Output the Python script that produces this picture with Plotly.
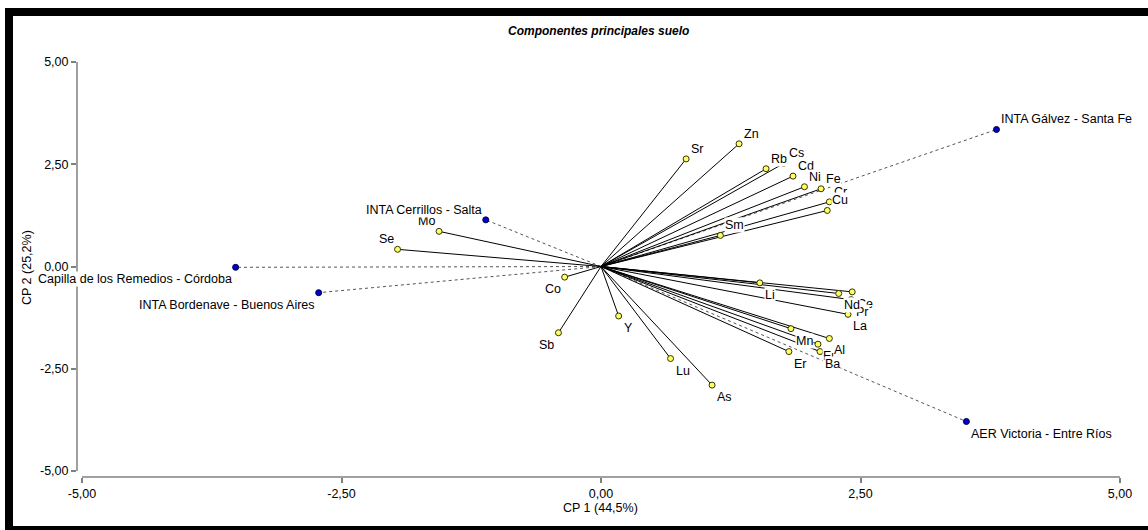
import plotly.graph_objects as go

# ---------------- data ----------------
var_names = ["Sr", "Zn", "Cs", "Rb", "Cd", "Ni", "Fe", "Cr", "Cu", "Sm",
             "Ce", "Pr", "Nd", "La", "Li", "Mn", "Eu", "Ba", "Al", "Er",
             "Y", "Lu", "As", "Sb", "Co", "Mo", "Se"]
var_x = [0.82, 1.33, 1.76, 1.59, 1.85, 1.96, 2.12, 2.20, 2.18, 1.15,
         2.42, 2.41, 2.29, 2.38, 1.53, 1.83, 2.09, 2.11, 2.20, 1.81,
         0.17, 0.67, 1.07, -0.41, -0.35, -1.56, -1.96]
var_y = [2.63, 3.00, 2.52, 2.39, 2.21, 1.95, 1.90, 1.58, 1.37, 0.76,
         -0.62, -0.81, -0.66, -1.17, -0.40, -1.52, -1.90, -2.08, -1.76, -2.08,
         -1.21, -2.25, -2.90, -1.62, -0.26, 0.86, 0.42]

site_names = ["INTA Gálvez - Santa Fe", "AER Victoria - Entre Ríos",
              "INTA Cerrillos - Salta", "Capilla de los Remedios - Córdoba",
              "INTA Bordenave - Buenos Aires"]
site_x = [3.81, 3.52, -1.11, -3.52, -2.72]
site_y = [3.35, -3.79, 1.14, -0.02, -0.64]

tick_vals = [-5, -2.5, 0, 2.5, 5]
tick_text = ["-5,00", "-2,50", "0,00", "2,50", "5,00"]

title_text = "Componentes principales suelo"
x_title = "CP 1 (44,5%)"
y_title = "CP 2 (25,2%)"

# ---------------- layout geometry ----------------
W, H = 1148, 530
ML, MR, MT, MB = 77, 26, 60, 53
PW, PH = W - ML - MR, H - MT - MB
FONT = "Liberation Sans, Arial, sans-serif"


def px(xp):
    return (xp - ML) / PW


def py(yp):
    return (H - MB - yp) / PH


def segs(xs, ys):
    ox, oy = [], []
    for a, b in zip(xs, ys):
        ox += [0, a, None]
        oy += [0, b, None]
    return ox, oy


fig = go.Figure()

sx, sy = segs(site_x, site_y)
fig.add_trace(go.Scatter(x=sx, y=sy, mode="lines",
                         line=dict(color="#555555", width=1, dash="dot"),
                         hoverinfo="skip"))
vx, vy = segs(var_x, var_y)
fig.add_trace(go.Scatter(x=vx, y=vy, mode="lines",
                         line=dict(color="black", width=1),
                         hoverinfo="skip"))
fig.add_trace(go.Scatter(x=var_x, y=var_y, mode="markers",
                         marker=dict(size=6, color="#FFFF66",
                                     line=dict(color="#333300", width=1)),
                         text=var_names))
fig.add_trace(go.Scatter(x=site_x, y=site_y, mode="markers",
                         marker=dict(size=6, color="#0000CC",
                                     line=dict(color="#000044", width=1)),
                         text=site_names))

annotations = []
annotations.append(dict(x=px(598), y=py(31), xref="paper", yref="paper",
                        text="<b><i>" + title_text + "</i></b>", showarrow=False,
                        xanchor="center", yanchor="middle",
                        font=dict(family=FONT, size=12, color="black")))
annotations.append(dict(x=px(600), y=py(508), xref="paper", yref="paper",
                        text=x_title, showarrow=False,
                        xanchor="center", yanchor="middle",
                        font=dict(family=FONT, size=12.5, color="black")))
annotations.append(dict(x=px(27), y=py(268), xref="paper", yref="paper",
                        text=y_title, showarrow=False, textangle=-90,
                        xanchor="center", yanchor="middle",
                        font=dict(family=FONT, size=12.5, color="black")))

for name, x, y in list(zip(var_names, var_x, var_y)) + list(zip(site_names, site_x, site_y)):
    annotations.append(dict(
        x=x, y=y, xref="x", yref="y", text=name, showarrow=False,
        xanchor="left" if x > 0 else "right",
        yanchor="middle",
        xshift=4 if x > 0 else -3,
        yshift=10 if y > 0 else -12,
        bgcolor="white", borderpad=0,
        font=dict(family=FONT, size=12.5, color="black")))

shapes = [
    # axis lines
    dict(type="line", xref="paper", yref="y", x0=0, x1=0, y0=-5, y1=5,
         line=dict(color="#808080", width=1.5)),
    dict(type="line", xref="x", yref="paper", x0=-5, x1=5, y0=0, y1=0,
         line=dict(color="#808080", width=1.5)),
    # outer black frame
    dict(type="rect", xref="paper", yref="paper", x0=px(5), x1=px(13),
         y0=py(8), y1=py(531), fillcolor="black", line=dict(width=0)),
    dict(type="rect", xref="paper", yref="paper", x0=px(5), x1=px(1149),
         y0=py(8), y1=py(16), fillcolor="black", line=dict(width=0)),
    dict(type="rect", xref="paper", yref="paper", x0=px(5), x1=px(1149),
         y0=py(526), y1=py(531), fillcolor="black", line=dict(width=0)),
]

xpu = (1120 - 82) / 10.0
ypu = (471 - 62) / 10.0
x_range = [-5 - 5 / xpu, 5 + 2 / xpu]
y_range = [-5 - 6 / ypu, 5 + 2 / ypu]

fig.update_layout(
    width=W, height=H,
    margin=dict(l=ML, r=MR, t=MT, b=MB, pad=0),
    paper_bgcolor="white", plot_bgcolor="white",
    showlegend=False,
    annotations=annotations,
    shapes=shapes,
    font=dict(family=FONT, size=12, color="black"),
    xaxis=dict(range=x_range, showgrid=False, zeroline=False, showline=False,
               tickmode="array", tickvals=tick_vals, ticktext=tick_text,
               ticks="outside", ticklen=5, tickcolor="#808080", tickwidth=1.5,
               tickfont=dict(family=FONT, size=12.5, color="black")),
    yaxis=dict(range=y_range, showgrid=False, zeroline=False, showline=False,
               tickmode="array", tickvals=tick_vals, ticktext=tick_text,
               ticks="outside", ticklen=5, tickcolor="#808080", tickwidth=1.5,
               tickfont=dict(family=FONT, size=12.5, color="black")),
)

fig.write_html("out.html",
               config={"displayModeBar": False},
               post_script="document.body.style.margin='0';document.body.style.overflow='hidden';")
